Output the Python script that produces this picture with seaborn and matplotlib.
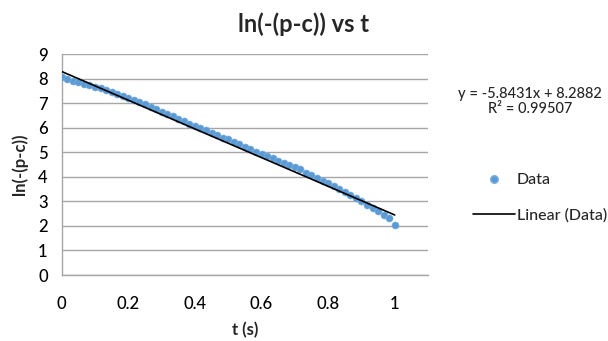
import matplotlib
matplotlib.use("Agg")
import matplotlib.pyplot as plt
import seaborn as sns
import pandas as pd
import numpy as np
from matplotlib.lines import Line2D

t_values = [0.0, 0.0167, 0.0333, 0.05, 0.0667, 0.0833, 0.1, 0.1167, 0.1333, 0.15,
            0.1667, 0.1833, 0.2, 0.2167, 0.2333, 0.25, 0.2667, 0.2833, 0.3, 0.3167,
            0.3333, 0.35, 0.3667, 0.3833, 0.4, 0.4167, 0.4333, 0.45, 0.4667, 0.4833,
            0.5, 0.5167, 0.5333, 0.55, 0.5667, 0.5833, 0.6, 0.6167, 0.6333, 0.65,
            0.6667, 0.6833, 0.7, 0.7167, 0.7333, 0.75, 0.7667, 0.7833, 0.8, 0.8167,
            0.8333, 0.85, 0.8667, 0.8833, 0.9, 0.9167, 0.9333, 0.95, 0.9667, 0.9833, 1.0]
ln_values = [8.06, 7.99, 7.92, 7.87, 7.80, 7.73, 7.66, 7.60, 7.53, 7.45,
             7.37, 7.30, 7.21, 7.12, 7.04, 6.95, 6.84, 6.76, 6.66, 6.56,
             6.47, 6.36, 6.28, 6.17, 6.08, 5.98, 5.90, 5.79, 5.70, 5.60,
             5.52, 5.41, 5.32, 5.22, 5.14, 5.03, 4.94, 4.85, 4.76, 4.65,
             4.56, 4.48, 4.41, 4.32, 4.16, 4.06, 3.95, 3.84, 3.73, 3.62,
             3.50, 3.38, 3.25, 3.13, 3.00, 2.86, 2.73, 2.60, 2.46, 2.32, 2.05]
slope = -5.8431
intercept = 8.2882
x_ticks = [0, 0.2, 0.4, 0.6, 0.8, 1]
x_tick_labels = ["0", "0.2", "0.4", "0.6", "0.8", "1"]
y_ticks = [0, 1, 2, 3, 4, 5, 6, 7, 8, 9]

sns.set_theme(style="white")
plt.rcParams['font.family'] = ['Lato', 'DejaVu Sans']

df = pd.DataFrame({"t": t_values, "v": ln_values})
fit_x = [t_values[0], t_values[-1]]
fit_df = pd.DataFrame({"t": fit_x, "v": [slope * x + intercept for x in fit_x]})

fig = plt.figure(figsize=(6.08, 3.41), dpi=100)
ax = fig.add_axes([0.1015, 0.1935, 0.6025, 0.648])

grid_c = "#a6a6a6"
for y in y_ticks:
    ax.axhline(y, color=grid_c, lw=1.0, zorder=0)

marker_c = "#5b9bd5"
sns.scatterplot(data=df, x="t", y="v", ax=ax, color=marker_c, s=26,
                edgecolor="#7fb0e0", linewidth=0.4, zorder=3, legend=False)
sns.lineplot(data=fit_df, x="t", y="v", ax=ax, color="black", lw=1.2, zorder=4)

ax.set_xlim(0, 1.1)
ax.set_ylim(0, 9)
ax.set_xticks(x_ticks)
ax.set_xticklabels(x_tick_labels)
ax.set_yticks(y_ticks)
ax.tick_params(axis="both", labelsize=12, colors="black", length=5, width=1,
               direction="out", pad=6)
ax.tick_params(axis="x", color=grid_c, pad=10)
ax.tick_params(axis="y", color=grid_c, pad=5)
for lab in ax.get_xticklabels() + ax.get_yticklabels():
    lab.set_fontweight("medium")
for s in ["top", "right"]:
    ax.spines[s].set_visible(False)
for s in ["left", "bottom"]:
    ax.spines[s].set_color(grid_c)
    ax.spines[s].set_linewidth(1.0)

ax.set_xlabel("t (s)", fontsize=12, fontweight="bold", labelpad=7)
ax.set_ylabel("ln(-(p-c))", fontsize=12, fontweight="bold", labelpad=7)

fig.text(0.5, 0.93, "ln(-(p-c)) vs t", ha="center", va="center",
         fontsize=17, fontweight="bold")

fig.text(0.872, 0.725, "y = -5.8431x + 8.2882", ha="center", va="center", fontsize=10.5,
         fontweight="medium")
fig.text(0.872, 0.68, "R² = 0.99507", ha="center", va="center", fontsize=10.5,
         fontweight="medium")

handles = [Line2D([], [], marker="o", color="none", markerfacecolor=marker_c,
                  markeredgecolor="#7fb0e0", markersize=5.5),
           Line2D([], [], color="black", lw=1.2)]
leg = fig.legend(handles, ["Data", "Linear (Data)"], loc="center left",
                 bbox_to_anchor=(0.755, 0.42), frameon=False, fontsize=11.5,
                 handlelength=2.6, labelspacing=1.3, handletextpad=0.1)
for txt in leg.get_texts():
    txt.set_fontweight("medium")

fig.savefig("out.png", dpi=100)
